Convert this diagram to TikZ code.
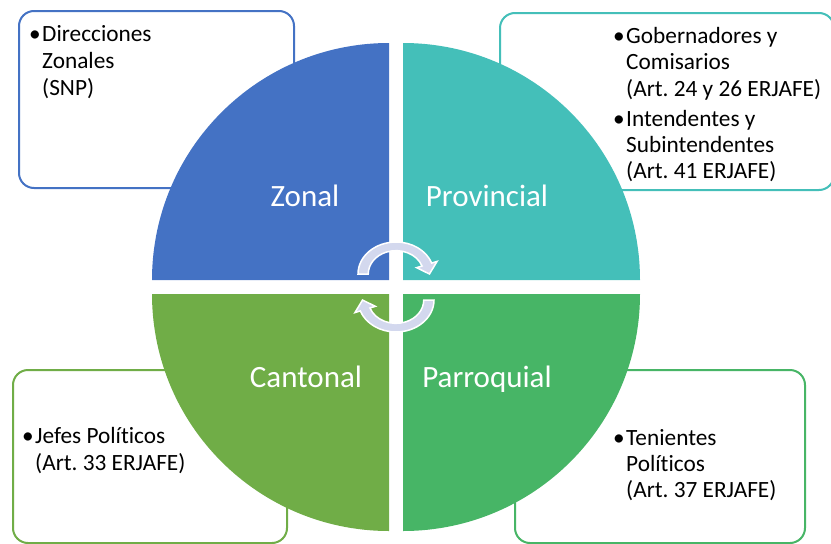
\documentclass[tikz,border=0pt]{standalone}
\usepackage{fontspec}
\setmainfont{Carlito}[Ligatures=NoCommon]
\definecolor{czonal}{HTML}{4472C4}
\definecolor{cprov}{HTML}{44BFB9}
\definecolor{ccant}{HTML}{70AD47}
\definecolor{cparr}{HTML}{47B566}
\definecolor{carrow}{HTML}{D3D8EE}
\frenchspacing
\begin{document}
\begin{tikzpicture}[x=1pt,y=-1pt,
 infobox/.style={line width=2pt, rounded corners=15pt, fill=white, inner sep=0pt, anchor=north west},
 qlabel/.style={anchor=base, text=white, font=\fontsize{31}{37}\selectfont, inner sep=0pt},
 itemtext/.style={anchor=base west, font=\fontsize{23.3}{28}\selectfont, inner sep=0pt, text=black},
 cycarrow/.style={fill=carrow, draw=white, line width=1.5pt, line join=miter}]
\useasboundingbox (0,0) rectangle (831,544);
\clip (0,0) rectangle (831,544);
% information boxes
\node[infobox, draw=czonal, minimum width=275pt, minimum height=177pt] (bzonal) at (18,10) {};
\node[infobox, draw=cprov, minimum width=334pt, minimum height=177pt] (bprov) at (499,12) {};
\node[infobox, draw=ccant, minimum width=274pt, minimum height=173pt] (bcant) at (12,369) {};
\node[infobox, draw=cparr, minimum width=290pt, minimum height=173pt] (bparr) at (514,369) {};
% quadrants
\fill[czonal] (389,280) -- (152,280) arc[start angle=180,end angle=270,radius=237] -- cycle;
\fill[cprov] (403,280) -- (640,280) arc[start angle=0,end angle=-90,radius=237] -- cycle;
\fill[ccant] (389,294) -- (152,294) arc[start angle=180,end angle=90,radius=237] -- cycle;
\fill[cparr] (403,294) -- (640,294) arc[start angle=0,end angle=90,radius=237] -- cycle;
% quadrant labels
\node[qlabel] (lzonal) at (305,206) {Zonal};
\node[qlabel] (lprov) at (487,206) {Provincial};
\node[qlabel] (lcant) at (306,387) {Cantonal};
\node[qlabel] (lparr) at (487,387) {Parroquial};
% cycle arrows
\begin{scope}[shift={(396,274)}, xscale=38, yscale=32]
\filldraw[cycarrow] (180:1) arc[start angle=180,end angle=340,radius=1] -- (340:1.15) -- (0:0.88) -- (340:0.58) -- (340:0.73) arc[start angle=340,end angle=180,radius=0.73] -- cycle;
\end{scope}
\begin{scope}[shift={(396,300)}, rotate=180, xscale=38, yscale=32]
\filldraw[cycarrow] (180:1) arc[start angle=180,end angle=340,radius=1] -- (340:1.15) -- (0:0.88) -- (340:0.58) -- (340:0.73) arc[start angle=340,end angle=180,radius=0.73] -- cycle;
\end{scope}
% box texts
\node[itemtext] (z1) at (42,41) {\llap{•\hspace{1.5pt}}Direcciones};
\node[itemtext] (z2) at (42,68) {Zonales};
\node[itemtext] (z3) at (42,95) {(SNP)};
\node[itemtext] (p1) at (626,43.5) {\llap{•\hspace{1.5pt}}Gobernadores y};
\node[itemtext] (p2) at (626,69.5) {Comisarios};
\node[itemtext] (p3) at (626,96.5) {(Art. 24 y 26 ERJAFE)};
\node[itemtext] (p4) at (626,126.5) {\llap{•\hspace{1.5pt}}Intendentes y};
\node[itemtext] (p5) at (626,152) {Subintendentes};
\node[itemtext] (p6) at (626,178) {(Art. 41 ERJAFE)};
\node[itemtext] (c1) at (35,443) {\llap{•\hspace{1.5pt}}Jefes Políticos};
\node[itemtext] (c2) at (35,470) {(Art. 33 ERJAFE)};
\node[itemtext] (r1) at (626,445) {\llap{•\hspace{1.5pt}}Tenientes};
\node[itemtext] (r2) at (626,471.5) {Políticos};
\node[itemtext] (r3) at (626,497) {(Art. 37 ERJAFE)};
\end{tikzpicture}
\end{document}
